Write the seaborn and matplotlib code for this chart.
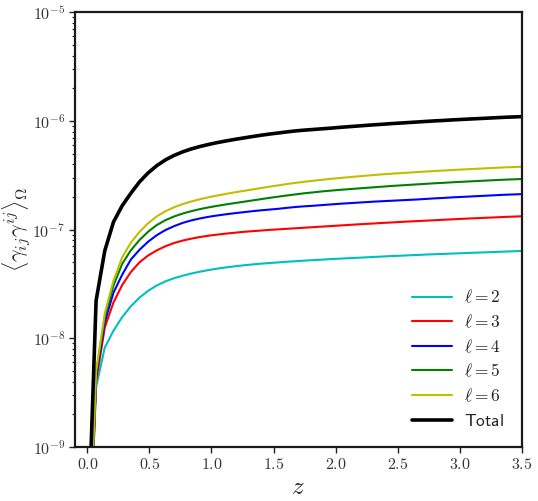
import numpy as np
import pandas as pd
import matplotlib
matplotlib.use("Agg")
import matplotlib.pyplot as plt
from matplotlib.ticker import FixedLocator, FuncFormatter, LogLocator, NullFormatter
import seaborn as sns

# ── data (log10 of <gamma_ij gamma^ij>_Omega) ────────────────────────────
z = [0.0, 0.07, 0.14, 0.21, 0.28, 0.35, 0.42, 0.49, 0.56, 0.63,
     0.70, 0.77, 0.84, 0.91, 0.98, 1.05, 1.12, 1.19, 1.26, 1.33,
     1.40, 1.47, 1.54, 1.61, 1.68, 1.75, 1.82, 1.89, 1.96, 2.03,
     2.10, 2.17, 2.24, 2.31, 2.38, 2.45, 2.52, 2.59, 2.66, 2.73,
     2.80, 2.87, 2.94, 3.01, 3.08, 3.15, 3.22, 3.29, 3.36, 3.43, 3.50]

log_l2 = [-10.36, -8.45, -8.085, -7.93, -7.805, -7.705, -7.625, -7.562, -7.513, -7.475,
          -7.446, -7.423, -7.403, -7.386, -7.371, -7.358, -7.347, -7.337, -7.328, -7.320,
          -7.313, -7.307, -7.301, -7.295, -7.290, -7.285, -7.280, -7.276, -7.271, -7.267,
          -7.263, -7.259, -7.255, -7.251, -7.247, -7.243, -7.240, -7.236, -7.233, -7.229,
          -7.226, -7.223, -7.220, -7.217, -7.214, -7.211, -7.208, -7.205, -7.202, -7.199, -7.196]

log_l3 = [-10.55, -8.40, -7.90, -7.67, -7.51, -7.39, -7.30, -7.237, -7.19, -7.152,
          -7.122, -7.100, -7.082, -7.067, -7.055, -7.045, -7.036, -7.028, -7.020, -7.014,
          -7.008, -7.002, -6.997, -6.992, -6.987, -6.982, -6.977, -6.972, -6.967, -6.962,
          -6.957, -6.952, -6.947, -6.943, -6.938, -6.934, -6.929, -6.925, -6.921, -6.917,
          -6.913, -6.909, -6.905, -6.901, -6.897, -6.894, -6.890, -6.887, -6.883, -6.880, -6.877]

log_l4 = [-10.50, -8.35, -7.85, -7.58, -7.415, -7.275, -7.185, -7.11, -7.05, -7.003,
          -6.967, -6.937, -6.914, -6.896, -6.881, -6.869, -6.858, -6.848, -6.839, -6.830,
          -6.822, -6.815, -6.808, -6.799, -6.791, -6.785, -6.780, -6.774, -6.768, -6.762,
          -6.757, -6.752, -6.747, -6.742, -6.738, -6.734, -6.730, -6.726, -6.722, -6.717,
          -6.712, -6.708, -6.703, -6.699, -6.695, -6.691, -6.687, -6.683, -6.679, -6.676, -6.673]

log_l5 = [-10.47, -8.32, -7.805, -7.515, -7.315, -7.19, -7.095, -7.018, -6.957, -6.912,
          -6.878, -6.851, -6.829, -6.810, -6.794, -6.780, -6.767, -6.755, -6.743, -6.731,
          -6.719, -6.707, -6.696, -6.685, -6.675, -6.665, -6.657, -6.648, -6.641, -6.634,
          -6.628, -6.622, -6.616, -6.610, -6.604, -6.598, -6.593, -6.588, -6.583, -6.578,
          -6.573, -6.569, -6.564, -6.560, -6.556, -6.552, -6.548, -6.544, -6.540, -6.537, -6.534]

log_l6 = [-10.45, -8.30, -7.77, -7.47, -7.255, -7.12, -7.02, -6.94, -6.877, -6.83,
          -6.793, -6.764, -6.740, -6.719, -6.701, -6.685, -6.670, -6.656, -6.643, -6.630,
          -6.617, -6.604, -6.592, -6.580, -6.569, -6.559, -6.550, -6.541, -6.533, -6.525,
          -6.518, -6.511, -6.504, -6.497, -6.491, -6.485, -6.480, -6.475, -6.470, -6.465,
          -6.460, -6.456, -6.451, -6.447, -6.443, -6.439, -6.435, -6.431, -6.427, -6.424, -6.421]

log_total = [-10.0, -7.654, -7.194, -6.93, -6.78, -6.665, -6.560, -6.477, -6.410, -6.357,
             -6.316, -6.283, -6.256, -6.234, -6.215, -6.198, -6.183, -6.169, -6.156, -6.143,
             -6.131, -6.120, -6.110, -6.100, -6.091, -6.084, -6.078, -6.072, -6.066, -6.059,
             -6.053, -6.047, -6.041, -6.035, -6.030, -6.024, -6.019, -6.014, -6.009, -6.004,
             -5.999, -5.995, -5.990, -5.986, -5.982, -5.978, -5.974, -5.970, -5.966, -5.963, -5.960]

labels = [r'$\ell=2$', r'$\ell=3$', r'$\ell=4$', r'$\ell=5$', r'$\ell=6$', r'$\mathsf{Total}$']
colors = ['c', 'r', 'b', 'g', 'y', 'k']
widths = [1.5, 1.5, 1.5, 1.5, 1.5, 2.6]
y_ticks = [1e-9, 1e-8, 1e-7, 1e-6, 1e-5]
x_ticks = [0.0, 0.5, 1.0, 1.5, 2.0, 2.5, 3.0, 3.5]


def main():
    sns.set_style("ticks")
    plt.rcParams['mathtext.fontset'] = 'cm'
    plt.rcParams['font.family'] = ['DejaVu Sans']

    series = [log_l2, log_l3, log_l4, log_l5, log_l6, log_total]

    fig = plt.figure(figsize=(5.38, 5.01), dpi=100)
    ax = fig.add_axes([0.1394, 0.1078, 0.8303, 0.8676])

    for vals, lab, col, lw in zip(series, labels, colors, widths):
        df = pd.DataFrame({'z': z, 'val': 10 ** np.array(vals)})
        sns.lineplot(data=df, x='z', y='val', color=col, lw=lw, label=lab, ax=ax)

    ax.set_yscale('log')
    ax.set_xlim(-0.1, 3.5)
    ax.set_ylim(1e-9, 1e-5)

    # ── ticks ─────────────────────────────────────────────────────────────
    ax.xaxis.set_major_locator(FixedLocator(x_ticks))
    ax.xaxis.set_major_formatter(FuncFormatter(lambda v, p: r'$%.1f$' % v))
    ax.yaxis.set_major_locator(FixedLocator(y_ticks))
    ax.yaxis.set_major_formatter(FuncFormatter(lambda v, p: r'$10^{%d}$' % round(np.log10(v))))
    ax.yaxis.set_minor_locator(LogLocator(base=10, subs=np.arange(2, 10)))
    ax.yaxis.set_minor_formatter(NullFormatter())
    ax.tick_params(axis='both', which='major', direction='out', length=4, width=1,
                   labelsize=11.5, colors='#222222', labelcolor='#333333', pad=3)
    ax.tick_params(axis='y', which='minor', direction='out', length=2, width=0.8,
                   colors='#222222')

    for sp in ax.spines.values():
        sp.set_visible(True)
        sp.set_linewidth(1.6)
        sp.set_color('#1a1a1a')

    ax.set_xlabel(r'$z$', fontsize=18)
    ax.xaxis.set_label_coords(0.5, -0.065)
    ax.set_ylabel(r'$\langle\gamma_{ij}\gamma^{ij}\rangle_\Omega$', fontsize=16)
    ax.yaxis.set_label_coords(-0.095, 0.5)

    leg = ax.legend(loc='lower right', frameon=False, fontsize=12.5,
                    handlelength=2.3, handletextpad=0.7, labelspacing=0.38,
                    borderaxespad=0.6)
    for t in leg.get_texts():
        t.set_color('#222222')

    fig.savefig('out.png', dpi=100)


if __name__ == "__main__":
    main()
